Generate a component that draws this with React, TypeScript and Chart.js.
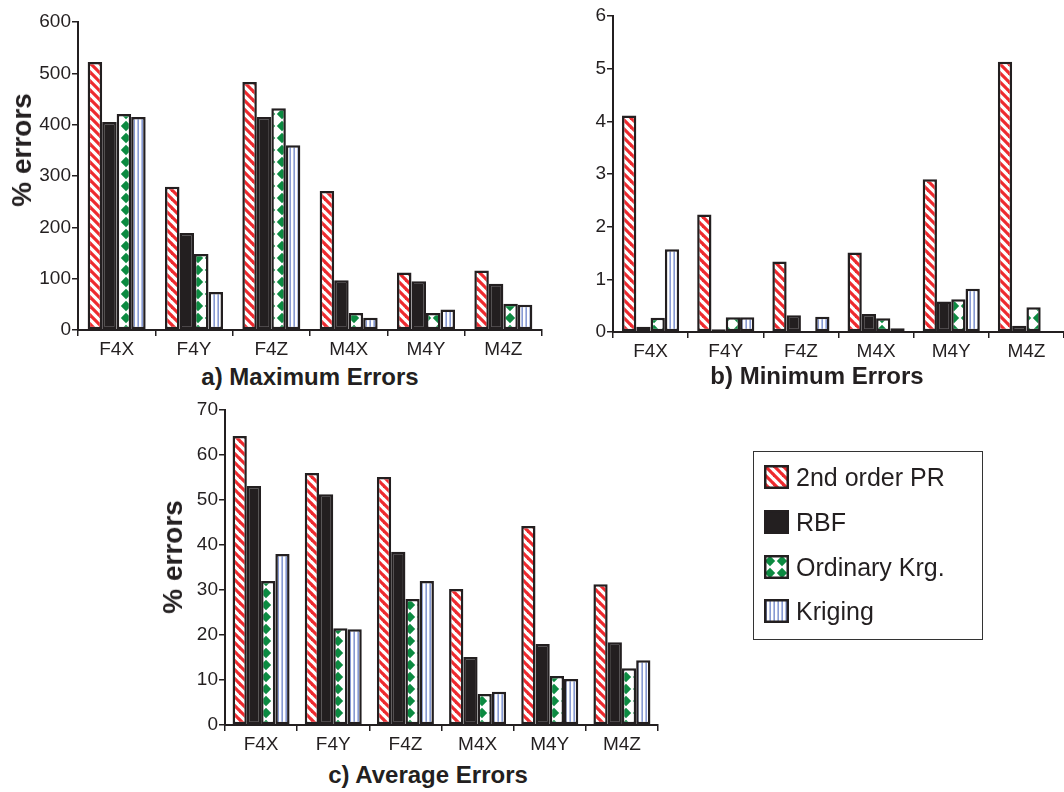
import React, { useEffect, useRef } from "react";
import { Chart, registerables } from "chart.js";

Chart.register(...registerables);

// ---------- data ----------
const categories = ["F4X", "F4Y", "F4Z", "M4X", "M4Y", "M4Z"];
const seriesNames = ["2nd order PR", "RBF", "Ordinary Krg.", "Kriging"];

// a) Maximum Errors
const maxPR = [522, 279, 483, 271, 112, 116];
const maxRBF = [405, 189, 415, 97, 95, 90];
const maxOK = [421, 148, 432, 33, 33, 51];
const maxKrig = [415, 74, 360, 24, 40, 49];

// b) Minimum Errors
const minPR = [4.11, 2.23, 1.34, 1.51, 2.9, 5.13];
const minRBF = [0.1, 0.05, 0.32, 0.34, 0.58, 0.12];
const minOK = [0.27, 0.28, null, 0.26, 0.62, 0.47];
const minKrig = [1.57, 0.28, 0.29, 0.07, 0.82, null];

// c) Average Errors
const avgPR = [64.2, 56, 55.1, 30.2, 44.2, 31.3];
const avgRBF = [53.1, 51.3, 38.5, 15.1, 18, 18.4];
const avgOK = [32, 21.5, 28, 6.9, 10.9, 12.6];
const avgKrig = [38, 21.3, 32, 7.4, 10.2, 14.4];

// axis ranges (tick labels come from min / max / step)
const maxAxis = { max: 600, step: 100 };
const minAxis = { max: 6, step: 1 };
const avgAxis = { max: 70, step: 10 };

const titles = ["a) Maximum Errors", "b) Minimum Errors", "c) Average Errors"];
const yTitle = "% errors";

// ---------- styles ----------
const DARK = "#231f20";
const RED = "#ee2a2f";
const GREEN = "#0c8a41";
const BLUE = "#6a82c9";
const FONT = "'Liberation Sans', Arial, sans-serif";

function makeFills(): (CanvasPattern | string)[] {
  // diagonal red stripes
  const s = 9;
  const c1 = document.createElement("canvas");
  c1.width = s;
  c1.height = s;
  const g1 = c1.getContext("2d")!;
  g1.fillStyle = "#ffffff";
  g1.fillRect(0, 0, s, s);
  g1.strokeStyle = RED;
  g1.lineWidth = 3.2;
  for (let k = -1; k <= 1; k++) {
    g1.beginPath();
    g1.moveTo(k * s - 1, -1);
    g1.lineTo(k * s + s + 1, s + 1);
    g1.stroke();
  }
  // green diamonds
  const d = 12;
  const c2 = document.createElement("canvas");
  c2.width = d;
  c2.height = d;
  const g2 = c2.getContext("2d")!;
  g2.fillStyle = "#ffffff";
  g2.fillRect(0, 0, d, d);
  g2.fillStyle = GREEN;
  const diamond = (cx: number, cy: number, r: number) => {
    g2.beginPath();
    g2.moveTo(cx, cy - r);
    g2.lineTo(cx + r, cy);
    g2.lineTo(cx, cy + r);
    g2.lineTo(cx - r, cy);
    g2.closePath();
    g2.fill();
  };
  diamond(d / 2, d / 2, 5.2);
  // vertical blue lines
  const v = 4;
  const c3 = document.createElement("canvas");
  c3.width = v;
  c3.height = v;
  const g3 = c3.getContext("2d")!;
  g3.fillStyle = "#ffffff";
  g3.fillRect(0, 0, v, v);
  g3.fillStyle = BLUE;
  g3.fillRect(1.5, 0, 1.3, v);

  const ctx = document.createElement("canvas").getContext("2d")!;
  return [
    ctx.createPattern(c1, "repeat")!,
    DARK,
    ctx.createPattern(c2, "repeat")!,
    ctx.createPattern(c3, "repeat")!,
  ];
}

type Box = { left: number; top: number; width: number; height: number };
type Area = { left: number; top: number; right: number; bottom: number };

function BarChart(props: {
  series: (number | null)[][];
  axis: { max: number; step: number };
  box: Box;
  area: Area;
  catPct: number;
}) {
  const ref = useRef<HTMLCanvasElement>(null);
  const { series, axis, box, area, catPct } = props;
  useEffect(() => {
    const fills = makeFills();
    const tickFont = { family: FONT, size: 19 };
    const chart = new Chart(ref.current!, {
      type: "bar",
      data: {
        labels: categories,
        datasets: series.map((vals, i) => ({
          label: seriesNames[i],
          data: vals,
          backgroundColor: fills[i] as any,
          borderColor: DARK,
          borderWidth: 2.5,
          borderSkipped: false,
          categoryPercentage: catPct,
          barPercentage: 1,
        })),
      },
      options: {
        responsive: false,
        animation: false,
        events: [],
        layout: {
          padding: { left: 0, top: area.top, right: box.width - area.right, bottom: 0 },
        },
        plugins: { legend: { display: false }, tooltip: { enabled: false } },
        scales: {
          x: {
            offset: true,
            grid: {
              display: true,
              drawOnChartArea: false,
              drawTicks: true,
              tickLength: 6,
              color: DARK,
              lineWidth: 1.5,
              offset: true,
            },
            border: { display: true, color: DARK, width: 2 },
            ticks: { color: DARK, font: tickFont, padding: 2, maxRotation: 0 },
            afterFit: (s: any) => {
              s.height = box.height - area.bottom;
            },
          },
          y: {
            min: 0,
            max: axis.max,
            ticks: { stepSize: axis.step, color: DARK, font: tickFont, padding: 1 },
            grid: {
              display: true,
              drawOnChartArea: false,
              drawTicks: true,
              tickLength: 6,
              color: DARK,
              lineWidth: 1.5,
            },
            border: { display: true, color: DARK, width: 2 },
            afterFit: (s: any) => {
              s.width = area.left;
            },
          },
        },
      },
    } as any);
    return () => chart.destroy();
  }, []);
  return (
    <canvas
      ref={ref}
      width={box.width}
      height={box.height}
      style={{
        position: "absolute",
        left: box.left,
        top: box.top,
        width: box.width,
        height: box.height,
      }}
    />
  );
}

function Swatch({ index }: { index: number }) {
  const ref = useRef<HTMLCanvasElement>(null);
  useEffect(() => {
    const c = ref.current!;
    const g = c.getContext("2d")!;
    const fills = makeFills();
    g.fillStyle = DARK;
    g.fillRect(0, 0, c.width, c.height);
    g.fillStyle = fills[index] as any;
    g.fillRect(2.5, 2.5, c.width - 5, c.height - 5);
  }, []);
  return <canvas ref={ref} width={25} height={24} style={{ display: "block" }} />;
}

function Text(props: { x: number; y: number; text: string; size: number; bold?: boolean; rotate?: boolean }) {
  return (
    <div
      style={{
        position: "absolute",
        left: props.x,
        top: props.y,
        transform: `translate(-50%, -50%)${props.rotate ? " rotate(-90deg)" : ""}`,
        fontFamily: FONT,
        fontSize: props.size,
        fontWeight: props.bold ? 700 : 400,
        color: DARK,
        whiteSpace: "nowrap",
        lineHeight: 1,
      }}
    >
      {props.text}
    </div>
  );
}

export default function App() {
  const legendRows = [477, 522, 567, 611];
  return (
    <div
      style={{
        position: "absolute",
        left: 0,
        top: 0,
        width: 1064,
        height: 792,
        background: "#ffffff",
        overflow: "hidden",
      }}
    >
      <BarChart
        series={[maxPR, maxRBF, maxOK, maxKrig]}
        axis={maxAxis}
        box={{ left: 0, top: 0, width: 560, height: 362 }}
        area={{ left: 78, top: 22, right: 542, bottom: 330 }}
        catPct={0.75}
      />
      <BarChart
        series={[minPR, minRBF, minOK, minKrig]}
        axis={minAxis}
        box={{ left: 540, top: 0, width: 524, height: 362 }}
        area={{ left: 73, top: 16, right: 524, bottom: 332 }}
        catPct={0.76}
      />
      <BarChart
        series={[avgPR, avgRBF, avgOK, avgKrig]}
        axis={avgAxis}
        box={{ left: 140, top: 395, width: 540, height: 365 }}
        area={{ left: 85, top: 15, right: 518, bottom: 330 }}
        catPct={0.79}
      />

      <Text x={22} y={150} text={yTitle} size={28} bold rotate />
      <Text x={173} y={557} text={yTitle} size={28} bold rotate />

      <Text x={310} y={377} text={titles[0]} size={24} bold />
      <Text x={817} y={376} text={titles[1]} size={24} bold />
      <Text x={428} y={775} text={titles[2]} size={24} bold />

      <div
        style={{
          position: "absolute",
          left: 753,
          top: 451,
          width: 228,
          height: 187,
          border: `1.5px solid #333`,
        }}
      />
      {seriesNames.map((name, i) => (
        <div
          key={name}
          style={{
            position: "absolute",
            left: 764,
            top: legendRows[i] - 14,
            height: 28,
            display: "flex",
            alignItems: "center",
            fontFamily: FONT,
            fontSize: 25,
            color: DARK,
            whiteSpace: "nowrap",
          }}
        >
          <Swatch index={i} />
          <span style={{ marginLeft: 7 }}>{name}</span>
        </div>
      ))}
    </div>
  );
}
